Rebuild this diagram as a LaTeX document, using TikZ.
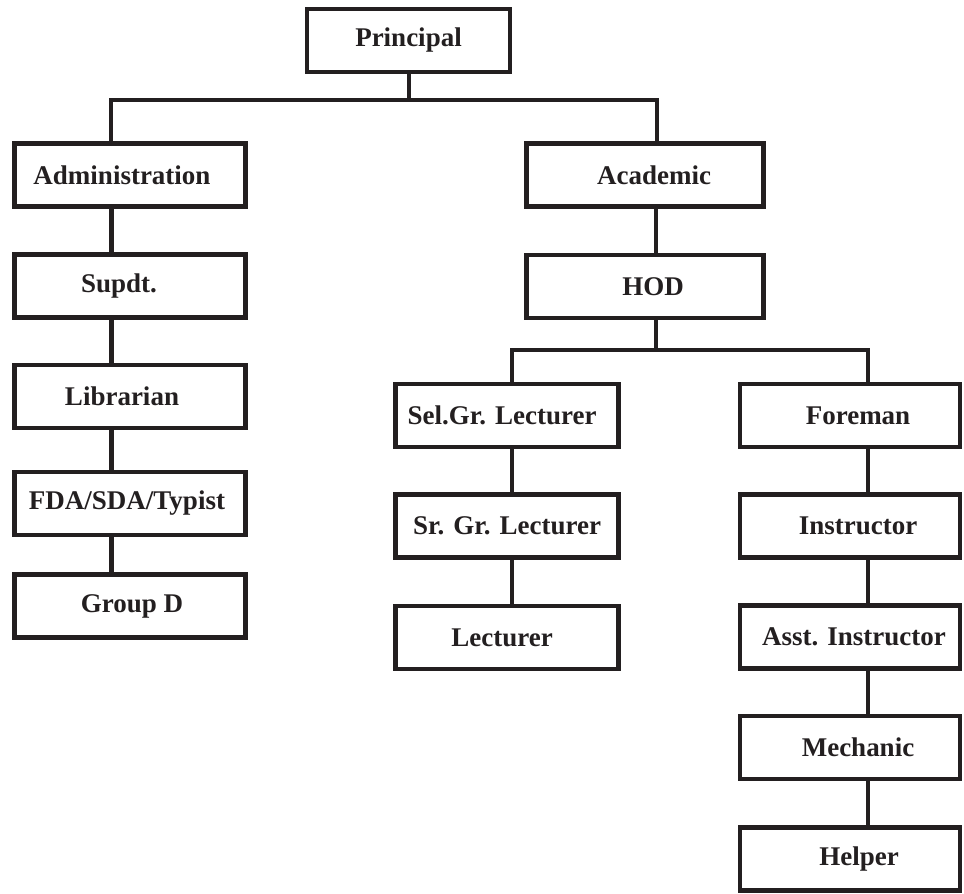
\documentclass[tikz,border=0pt]{standalone}
\usepackage{fontspec}
\setmainfont{Liberation Serif}
\definecolor{ink}{HTML}{231F20}
\newcommand{\txtshift}[1]{\hspace*{#1}}
\begin{document}
\begin{tikzpicture}[x=1pt,y=-1pt,
  orgbox/.style={draw=ink, line width=4.5pt, rectangle, inner sep=0pt, outer sep=0pt,
    minimum width=#1, minimum height=63pt, text=ink,
    font=\fontsize{27}{30}\selectfont\bfseries},
  orgbox/.default=232pt,
  conn/.style={draw=ink, line width=4pt, line join=miter}]
\useasboundingbox (0,0) rectangle (964,894);
% boxes
\node[orgbox=203pt] (principal) at (408.5,40.5) {Principal};
\node[orgbox=231pt] (admin) at (130,175) {\txtshift{-16pt}Administration};
\node[orgbox=231pt] (supdt) at (130,286) {\txtshift{-22pt}Supdt.};
\node[orgbox=231pt] (libr) at (130,396.5) {\txtshift{-16pt}Librarian};
\node[orgbox=231pt] (fda) at (130,503.5) {\txtshift{-6pt}FDA/SDA/Typist};
\node[orgbox=231pt] (groupd) at (130,606) {\txtshift{4pt}Group D};
\node[orgbox=237pt] (acad) at (645,175) {\txtshift{18pt}Academic};
\node[orgbox=237pt] (hod) at (645,286.5) {\txtshift{16pt}HOD};
\node[orgbox=223pt] (selgr) at (507,415.5) {\txtshift{-10pt}Sel.Gr. Lecturer};
\node[orgbox=223pt] (srgr) at (507,526) {Sr. Gr. Lecturer};
\node[orgbox=223pt] (lect) at (507,637.5) {\txtshift{-10pt}Lecturer};
\node[orgbox=220pt] (foreman) at (850,415.5) {\txtshift{16pt}Foreman};
\node[orgbox=220pt] (instr) at (850,526) {\txtshift{16pt}Instructor};
\node[orgbox=220pt] (asst) at (850,637) {\txtshift{8pt}Asst. Instructor};
\node[orgbox=220pt] (mech) at (850,747.5) {\txtshift{16pt}Mechanic};
\node[orgbox=220pt] (helper) at (850,859) {\txtshift{18pt}Helper};
% bus coordinates
\coordinate (busL) at (111,100);
\coordinate (busR) at (657,100);
\coordinate (busP) at (409,100);
\coordinate (colA) at (111,0);
\coordinate (colB) at (656,0);
\coordinate (colC) at (512,0);
\coordinate (colD) at (868,0);
\coordinate (bus2L) at (512,350);
\coordinate (bus2R) at (868,350);
\coordinate (bus2H) at (656,350);
% connectors
\draw[conn] (principal.south -| busP) -- (busP);
\draw[conn] (admin.north -| busL) |- (busR) -- (acad.north -| busR);
\draw[conn, line width=5pt] (admin.south -| colA) -- (supdt.north -| colA);
\draw[conn, line width=5pt] (supdt.south -| colA) -- (libr.north -| colA);
\draw[conn, line width=5pt] (libr.south -| colA) -- (fda.north -| colA);
\draw[conn, line width=5pt] (fda.south -| colA) -- (groupd.north -| colA);
\draw[conn] (acad.south -| colB) -- (hod.north -| colB);
\draw[conn] (hod.south -| colB) -- (bus2H);
\draw[conn] (selgr.north -| bus2L) |- (bus2R) -- (foreman.north -| bus2R);
\draw[conn] (selgr.south -| colC) -- (srgr.north -| colC);
\draw[conn] (srgr.south -| colC) -- (lect.north -| colC);
\draw[conn] (foreman.south -| colD) -- (instr.north -| colD);
\draw[conn] (instr.south -| colD) -- (asst.north -| colD);
\draw[conn] (asst.south -| colD) -- (mech.north -| colD);
\draw[conn] (mech.south -| colD) -- (helper.north -| colD);
\end{tikzpicture}
\end{document}
